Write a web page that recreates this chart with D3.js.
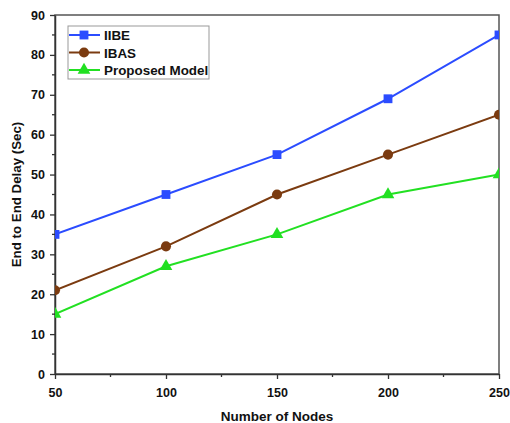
<!DOCTYPE html>
<html><head><meta charset="utf-8">
<script src="https://cdn.jsdelivr.net/npm/d3@7"></script>
<style>body{margin:0;background:#fff}svg{display:block}text{font-family:Arial,"Liberation Sans",sans-serif;font-weight:bold}</style>
</head><body><svg id="c" width="510" height="423"></svg>
<script>
const nodes = [50, 100, 150, 200, 250];
const iibe = [35, 45, 55, 69, 85];
const ibas = [21, 32, 45, 55, 65];
const proposed = [15, 27, 35, 45, 50];
const seriesNames = ["IIBE", "IBAS", "Proposed Model"];
const xTicks = [50, 100, 150, 200, 250];
const yTicks = [0, 10, 20, 30, 40, 50, 60, 70, 80, 90];

const svg = d3.select("#c");
const L = 55, R = 499, T = 15, B = 374;
const x = d3.scaleLinear().domain([50, 250]).range([L, R]);
const y = d3.scaleLinear().domain([0, 90]).range([B, T]);
const axisColor = "#333";

svg.append("defs").append("clipPath").attr("id", "clip")
  .append("rect").attr("x", L).attr("y", T).attr("width", R - L).attr("height", B - T);

svg.append("rect").attr("x", L).attr("y", T).attr("width", R - L).attr("height", B - T)
  .attr("fill", "none").attr("stroke", "#555").attr("stroke-width", 1.5);

const xMinor = d3.range(75, 250, 50);
const yMinor = d3.range(5, 90, 10);
svg.append("g").selectAll("line").data(xMinor).join("line")
  .attr("x1", d => x(d)).attr("x2", d => x(d)).attr("y1", B).attr("y2", B + 3)
  .attr("stroke", axisColor).attr("stroke-width", 1.3);
svg.append("g").selectAll("line").data(yMinor).join("line")
  .attr("y1", d => y(d)).attr("y2", d => y(d)).attr("x1", L).attr("x2", L - 3)
  .attr("stroke", axisColor).attr("stroke-width", 1.3);

const gx = svg.append("g").attr("transform", `translate(0,${B})`)
  .call(d3.axisBottom(x).tickValues(xTicks).tickSize(5).tickPadding(9).tickSizeOuter(0));
const gy = svg.append("g").attr("transform", `translate(${L},0)`)
  .call(d3.axisLeft(y).tickValues(yTicks).tickSize(5).tickPadding(5).tickSizeOuter(0));
[gx, gy].forEach(g => {
  g.select(".domain").attr("stroke", axisColor).attr("stroke-width", 1.5);
  g.selectAll(".tick line").attr("stroke", axisColor).attr("stroke-width", 1.3);
  g.selectAll(".tick text").attr("font-size", 12.5).attr("fill", "#111")
    .attr("font-family", "Arial, 'Liberation Sans', sans-serif").attr("font-weight", "bold");
});

svg.append("text").attr("x", 277).attr("y", 421).attr("text-anchor", "middle")
  .attr("font-size", 13.5).attr("fill", "#111").text("Number of Nodes");
svg.append("text").attr("transform", `translate(21,${(T + B) / 2}) rotate(-90)`)
  .attr("text-anchor", "middle").attr("font-size", 13.3).attr("fill", "#111").text("End to End Delay (Sec)");

const series = [
  {name: seriesNames[0], vals: iibe, color: "#2b4cff", marker: d3.symbolSquare, size: 78},
  {name: seriesNames[1], vals: ibas, color: "#7b3b10", marker: d3.symbolCircle, size: 80},
  {name: seriesNames[2], vals: proposed, color: "#22e022", marker: d3.symbolTriangle, size: 70}
];
const plot = svg.append("g").attr("clip-path", "url(#clip)");
const line = d3.line().x((d, i) => x(nodes[i])).y(d => y(d));
series.forEach(s => {
  plot.append("path").datum(s.vals).attr("d", line).attr("fill", "none")
    .attr("stroke", s.color).attr("stroke-width", 2);
  plot.selectAll(null).data(s.vals).join("path")
    .attr("d", d3.symbol().type(s.marker).size(s.size))
    .attr("transform", (d, i) => `translate(${x(nodes[i])},${y(d)})`)
    .attr("fill", s.color);
});

const lg = svg.append("g");
lg.append("rect").attr("x", 68).attr("y", 26).attr("width", 141).attr("height", 53)
  .attr("fill", "#fff").attr("stroke", "#999").attr("stroke-width", 1);
series.forEach((s, i) => {
  const yy = 35 + i * 17.5;
  lg.append("line").attr("x1", 69).attr("x2", 100).attr("y1", yy).attr("y2", yy)
    .attr("stroke", s.color).attr("stroke-width", 2);
  lg.append("path").attr("d", d3.symbol().type(s.marker).size(s.size)())
    .attr("transform", `translate(84,${yy})`).attr("fill", s.color);
  lg.append("text").attr("x", 104).attr("y", yy + 5).attr("font-size", 13.4)
    .attr("fill", "#111").text(s.name);
});
</script></body></html>
